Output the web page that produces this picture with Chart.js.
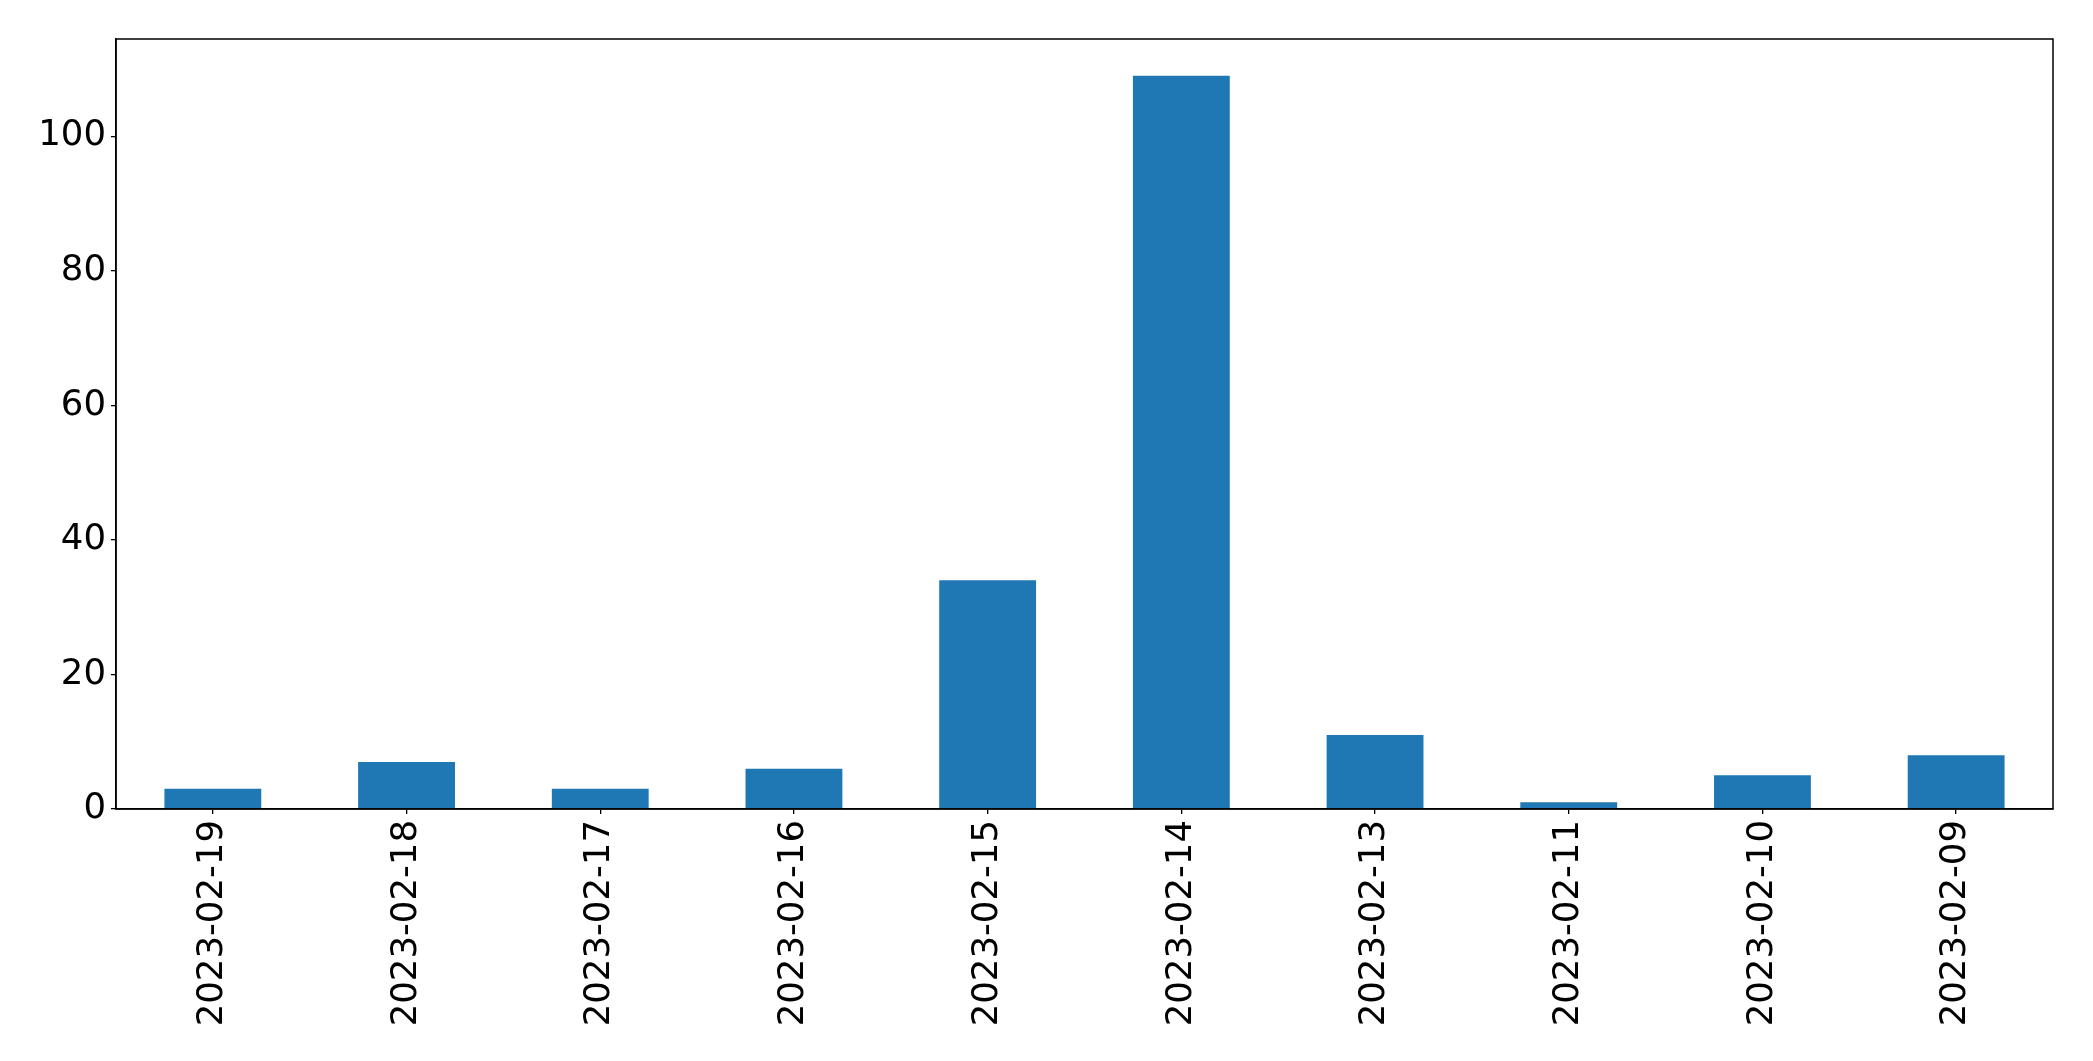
<!DOCTYPE html>
<html>
<head>
<meta charset="utf-8">
<script src="https://cdn.jsdelivr.net/npm/chart.js@4/dist/chart.umd.min.js"></script>
<style>
html,body{margin:0;padding:0;background:#fff;}
#wrap{width:2093px;height:1061px;position:relative;}
</style>
</head>
<body>
<div id="wrap"><canvas id="c" width="2093" height="1061"></canvas></div>
<script>
const categories = ["2023-02-19","2023-02-18","2023-02-17","2023-02-16","2023-02-15","2023-02-14","2023-02-13","2023-02-11","2023-02-10","2023-02-09"];
const counts = [3, 7, 3, 6, 34, 109, 11, 1, 5, 8];
const yTicks = [0, 20, 40, 60, 80, 100];

const frame = {
  id: 'frame',
  afterDatasetsDraw(chart) {
    const a = chart.chartArea, ctx = chart.ctx;
    ctx.save();
    ctx.strokeStyle = '#000';
    ctx.lineWidth = 1.5;
    ctx.strokeRect(a.left, a.top, a.right - a.left, a.bottom - a.top);
    ctx.restore();
  }
};

new Chart(document.getElementById('c'), {
  type: 'bar',
  data: {
    labels: categories,
    datasets: [{ data: counts, backgroundColor: '#1f77b4', borderWidth: 0, barPercentage: 0.5, categoryPercentage: 1.0 }]
  },
  options: {
    responsive: false,
    animation: false,
    layout: { padding: { top: 39, right: 40, left: 0, bottom: 0 } },
    plugins: { legend: { display: false }, tooltip: { enabled: false } },
    scales: {
      x: {
        offset: true,
        grid: { display: true, offset: false, drawOnChartArea: false, drawTicks: true, tickLength: 5, color: '#000', lineWidth: 1.3 },
        border: { display: true, color: '#000', width: 1.5 },
        ticks: { color: '#000', font: { family: 'DejaVu Sans', size: 35.5 }, minRotation: 90, maxRotation: 90, padding: 6, autoSkip: false },
        afterFit(s) { s.height = 252; }
      },
      y: {
        min: 0, max: 114.45,
        afterBuildTicks(s) { s.ticks = yTicks.map(v => ({ value: v })); },
        grid: { display: true, drawOnChartArea: false, drawTicks: true, tickLength: 5, color: '#000', lineWidth: 1.3 },
        border: { display: true, color: '#000', width: 1.5 },
        ticks: { color: '#000', font: { family: 'DejaVu Sans', size: 35.5 }, padding: 5 },
        afterFit(s) { s.width = 116; }
      }
    }
  },
  plugins: [frame]
});
</script>
</body>
</html>
